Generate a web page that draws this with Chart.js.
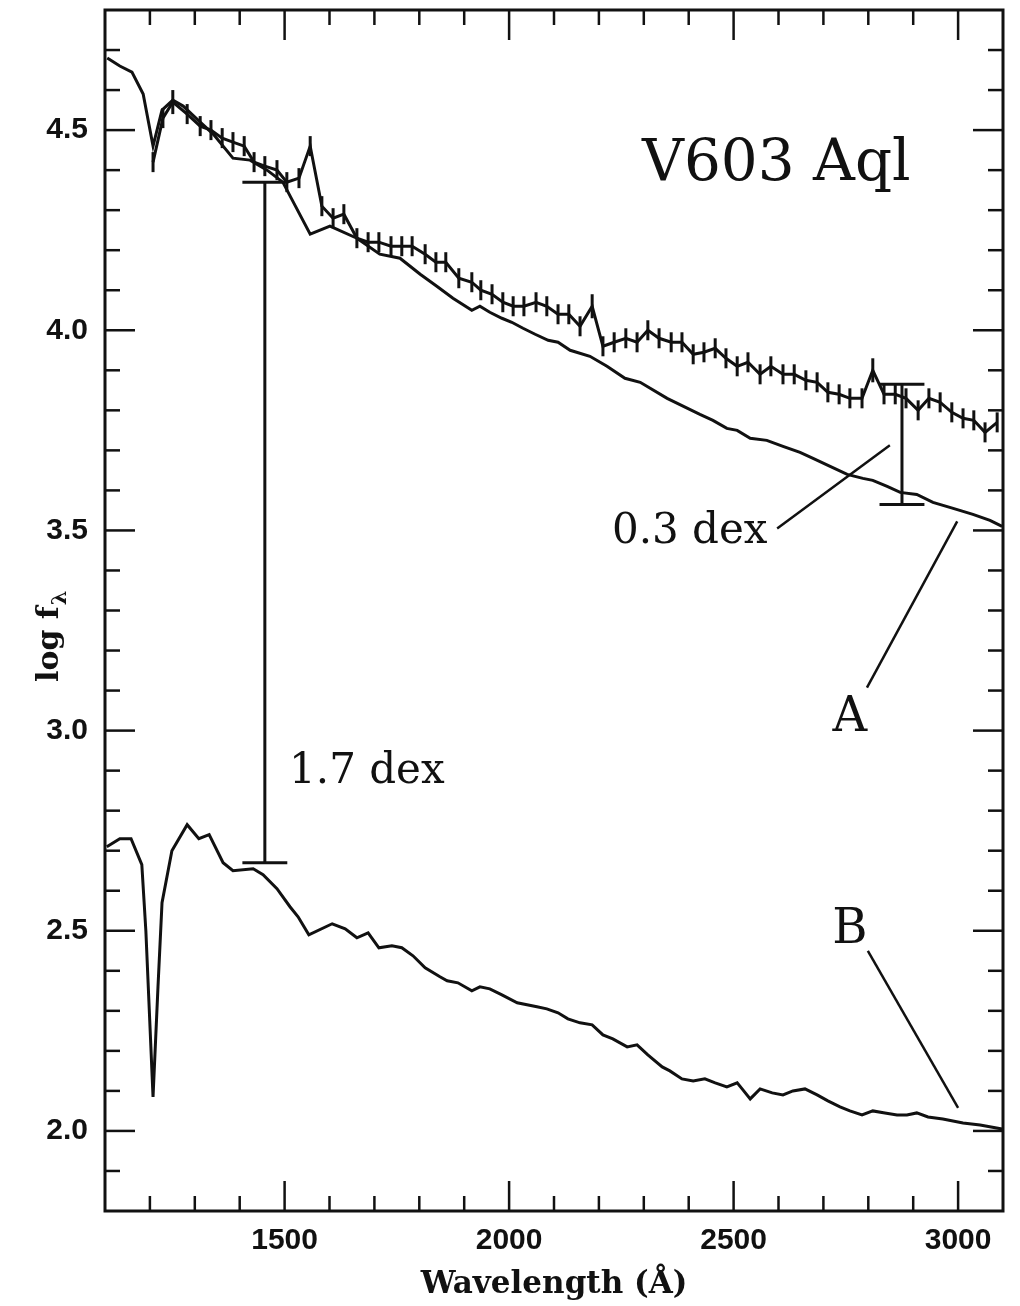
<!DOCTYPE html>
<html>
<head>
<meta charset="utf-8">
<title>V603 Aql</title>
<script src="https://cdn.jsdelivr.net/npm/chart.js@4.4.0/dist/chart.umd.min.js"></script>
<style>
  html, body { margin: 0; padding: 0; background: #fff; }
  canvas { display: block; }
</style>
</head>
<body>
<canvas id="chart" width="1020" height="1306"></canvas>
<script>
// observed spectrum (with error bars)
const obsWave = [1207,1229,1251,1283,1312,1336,1361,1385,1410,1432,1456,1483,1505,1532,1557,1583,1608,1632,1661,1686,
  1710,1737,1761,1784,1813,1837,1859,1888,1917,1937,1962,1986,2009,2033,2060,2084,2109,2133,2158,2185,
  2209,2234,2260,2285,2309,2334,2361,2385,2410,2434,2459,2483,2508,2532,2559,2583,2610,2635,2661,2686,
  2710,2735,2759,2786,2810,2835,2860,2884,2911,2935,2960,2986,3011,3035,3060,3087];
const obsFlux = [4.42,4.53,4.57,4.54,4.51,4.50,4.48,4.47,4.46,4.42,4.41,4.40,4.37,4.38,4.46,4.31,4.28,4.29,4.23,4.22,
  4.22,4.21,4.21,4.21,4.19,4.17,4.17,4.13,4.12,4.10,4.09,4.07,4.06,4.06,4.07,4.06,4.04,4.04,4.01,4.06,
  3.96,3.97,3.98,3.97,4.00,3.98,3.97,3.97,3.94,3.945,3.955,3.93,3.91,3.92,3.89,3.91,3.89,3.89,3.875,3.87,
  3.845,3.84,3.83,3.83,3.90,3.84,3.84,3.83,3.80,3.83,3.82,3.795,3.78,3.775,3.745,3.77];
const obsErr = [0.025,0.025,0.03,0.025,0.025,0.025,0.025,0.025,0.025,0.025,0.025,0.025,0.025,0.025,0.025,0.025,0.025,0.025,0.025,0.025,
  0.025,0.025,0.025,0.025,0.025,0.025,0.025,0.025,0.025,0.025,0.025,0.025,0.025,0.025,0.025,0.025,0.025,0.025,0.025,0.03,
  0.025,0.025,0.025,0.025,0.025,0.025,0.025,0.025,0.025,0.025,0.025,0.025,0.025,0.025,0.025,0.025,0.025,0.025,0.025,0.025,
  0.025,0.025,0.025,0.025,0.03,0.025,0.025,0.025,0.025,0.025,0.025,0.025,0.025,0.025,0.025,0.025];

// model A
const aWave = [1105,1133,1160,1185,1207,1227,1251,1274,1312,1341,1385,1423,1461,1496,1557,1601,1661,1712,1757,1802,
  1839,1875,1917,1935,1957,1984,2006,2031,2058,2087,2109,2136,2180,2218,2258,2292,2352,2425,2454,2485,
  2508,2537,2574,2610,2648,2677,2715,2753,2788,2810,2842,2871,2908,2944,2989,3033,3071,3098];
const aFlux = [4.68,4.66,4.645,4.59,4.46,4.55,4.575,4.56,4.52,4.49,4.43,4.425,4.40,4.37,4.24,4.26,4.23,4.19,4.18,4.14,
  4.11,4.08,4.05,4.06,4.045,4.03,4.02,4.005,3.99,3.975,3.97,3.95,3.935,3.91,3.88,3.87,3.83,3.79,3.775,3.755,
  3.75,3.73,3.725,3.71,3.695,3.68,3.66,3.64,3.63,3.625,3.61,3.595,3.59,3.57,3.555,3.54,3.525,3.51];

// model B
const bWave = [1104,1133,1158,1182,1191,1207,1218,1227,1249,1283,1309,1332,1363,1385,1430,1452,1483,1512,1530,1554,
  1606,1635,1661,1686,1710,1739,1761,1786,1813,1846,1862,1886,1917,1935,1957,1984,2018,2062,2084,2109,
  2131,2158,2185,2209,2231,2263,2285,2309,2341,2358,2385,2410,2436,2459,2485,2508,2519,2537,2559,2586,
  2610,2632,2659,2686,2710,2737,2759,2786,2810,2837,2864,2886,2908,2933,2966,3011,3049,3098];
const bFlux = [2.71,2.73,2.73,2.665,2.50,2.085,2.36,2.57,2.70,2.765,2.73,2.74,2.67,2.65,2.655,2.64,2.605,2.56,2.535,2.49,
  2.5175,2.505,2.4825,2.495,2.4575,2.4625,2.4575,2.4375,2.4075,2.385,2.375,2.37,2.35,2.36,2.355,2.34,2.32,2.31,2.305,2.295,
  2.28,2.27,2.265,2.24,2.23,2.21,2.215,2.19,2.16,2.15,2.13,2.125,2.13,2.12,2.11,2.12,2.105,2.08,2.105,2.095,
  2.09,2.10,2.105,2.09,2.075,2.06,2.05,2.04,2.05,2.045,2.04,2.04,2.045,2.035,2.03,2.02,2.015,2.005];

// axis ticks
const xTicks = [1100,1200,1300,1400,1500,1600,1700,1800,1900,2000,2100,2200,2300,2400,2500,2600,2700,2800,2900,3000,3100];
const xLabelled = [1500, 2000, 2500, 3000];
const yTicks = [1.8,1.9,2.0,2.1,2.2,2.3,2.4,2.5,2.6,2.7,2.8,2.9,3.0,3.1,3.2,3.3,3.4,3.5,3.6,3.7,3.8,3.9,4.0,4.1,4.2,4.3,4.4,4.5,4.6,4.7,4.8];
const yLabelled = [2.0, 2.5, 3.0, 3.5, 4.0, 4.5];

// offset bars between the curves
const barWave = [1456, 2875];
const barBase = [2.67, 3.565];
const barSize = [1.7, 0.3];

const ink = '#111';
const serif = '"DejaVu Serif", serif';

function seg(ctx, x1, y1, x2, y2) {
  ctx.beginPath();
  ctx.moveTo(x1, y1);
  ctx.lineTo(x2, y2);
  ctx.stroke();
}

const pts = (xs, ys) => xs.map((x, i) => ({ x: x, y: ys[i] }));

const decorations = {
  id: 'decorations',
  afterDatasetsDraw(chart) {
    const { ctx, chartArea: a, scales: { x, y } } = chart;
    ctx.save();
    ctx.strokeStyle = ink;
    ctx.fillStyle = ink;
    ctx.lineCap = 'butt';

    // error bars
    ctx.lineWidth = 3;
    obsWave.forEach((w, i) => {
      const px = x.getPixelForValue(w);
      seg(ctx, px, y.getPixelForValue(obsFlux[i] - obsErr[i]), px, y.getPixelForValue(obsFlux[i] + obsErr[i]));
    });

    // frame and inward ticks on all four sides
    ctx.lineWidth = 3;
    ctx.strokeRect(a.left, a.top, a.right - a.left, a.bottom - a.top);
    ctx.lineWidth = 2.5;
    xTicks.forEach(v => {
      if (v <= x.min || v >= x.max) return;
      const px = x.getPixelForValue(v);
      const len = xLabelled.includes(v) ? 30 : 15;
      seg(ctx, px, a.bottom, px, a.bottom - len);
      seg(ctx, px, a.top, px, a.top + len);
    });
    yTicks.forEach(v => {
      if (v <= y.min || v >= y.max) return;
      const py = y.getPixelForValue(v);
      const len = yLabelled.some(l => Math.abs(l - v) < 1e-6) ? 30 : 15;
      seg(ctx, a.left, py, a.left + len, py);
      seg(ctx, a.right, py, a.right - len, py);
    });

    // dex bars with caps
    ctx.lineWidth = 3;
    barWave.forEach((w, i) => {
      const px = x.getPixelForValue(w);
      const y0 = y.getPixelForValue(barBase[i]);
      const y1 = y.getPixelForValue(barBase[i] + barSize[i]);
      const c0 = x.getPixelForValue(w - 50), c1 = x.getPixelForValue(w + 50);
      seg(ctx, px, y0, px, y1);
      seg(ctx, c0, y0, c1, y0);
      seg(ctx, c0, y1, c1, y1);
    });

    // leader lines
    ctx.lineWidth = 2.5;
    seg(ctx, x.getPixelForValue(2597), y.getPixelForValue(3.505), x.getPixelForValue(2848), y.getPixelForValue(3.7125));
    seg(ctx, x.getPixelForValue(2797), y.getPixelForValue(3.1075), x.getPixelForValue(2998), y.getPixelForValue(3.5225));
    seg(ctx, x.getPixelForValue(2799), y.getPixelForValue(2.45), x.getPixelForValue(3000), y.getPixelForValue(2.0575));

    // labels
    ctx.textBaseline = 'alphabetic';
    ctx.textAlign = 'left';
    ctx.font = '42px ' + serif;
    ctx.fillText(barSize[0].toFixed(1) + ' dex', x.getPixelForValue(1510), y.getPixelForValue(2.87));
    ctx.fillText(barSize[1].toFixed(1) + ' dex', x.getPixelForValue(2229), y.getPixelForValue(3.4675));
    ctx.font = '58px ' + serif;
    ctx.fillText('V603 Aql', x.getPixelForValue(2296), y.getPixelForValue(4.375));
    ctx.textAlign = 'center';
    ctx.font = '48px ' + serif;
    ctx.fillText('A', x.getPixelForValue(2759), y.getPixelForValue(3.0));
    ctx.fillText('B', x.getPixelForValue(2759), y.getPixelForValue(2.47));

    // y axis title with subscript lambda
    ctx.save();
    ctx.translate(58, 632);
    ctx.rotate(-Math.PI / 2);
    ctx.textAlign = 'left';
    ctx.font = 'bold 30px ' + serif;
    const main = 'log f';
    ctx.fillText(main, -50, 0);
    const w = ctx.measureText(main).width;
    ctx.font = 'bold 21px ' + serif;
    ctx.fillText('λ', -50 + w + 1, 8);
    ctx.restore();

    ctx.restore();
  }
};

const line = (data) => ({
  data: data,
  borderColor: ink,
  borderWidth: 3,
  pointRadius: 0,
  tension: 0,
  fill: false
});

new Chart(document.getElementById('chart').getContext('2d'), {
  type: 'line',
  data: {
    datasets: [line(pts(aWave, aFlux)), line(pts(obsWave, obsFlux)), line(pts(bWave, bFlux))]
  },
  options: {
    responsive: false,
    animation: false,
    layout: { padding: { top: 10, right: 17, left: 0, bottom: 0 } },
    plugins: { legend: { display: false }, tooltip: { enabled: false } },
    scales: {
      x: {
        type: 'linear',
        min: 1100,
        max: 3100,
        afterBuildTicks: s => { s.ticks = xTicks.map(v => ({ value: v })); },
        afterFit: s => { s.height = 95; s.paddingLeft = 0; s.paddingRight = 0; },
        grid: { display: false, drawTicks: false },
        border: { display: false },
        ticks: {
          autoSkip: false,
          maxRotation: 0,
          padding: 12,
          color: ink,
          font: { family: '"Liberation Sans", Arial, sans-serif', size: 30, weight: 'bold' },
          callback: v => xLabelled.includes(v) ? String(v) : ''
        },
        title: {
          display: true,
          text: 'Wavelength (Å)',
          color: ink,
          font: { family: serif, size: 31, weight: 'bold' },
          padding: { top: 0, bottom: 2 }
        }
      },
      y: {
        min: 1.8,
        max: 4.8,
        afterBuildTicks: s => { s.ticks = yTicks.map(v => ({ value: v })); },
        afterFit: s => { s.width = 105; s.paddingTop = 0; s.paddingBottom = 0; },
        grid: { display: false, drawTicks: false },
        border: { display: false },
        ticks: {
          autoSkip: false,
          padding: 17,
          color: ink,
          font: { family: '"Liberation Sans", Arial, sans-serif', size: 30, weight: 'bold' },
          callback: v => yLabelled.some(l => Math.abs(l - v) < 1e-6) ? v.toFixed(1) : ''
        }
      }
    }
  },
  plugins: [decorations]
});
</script>
</body>
</html>
